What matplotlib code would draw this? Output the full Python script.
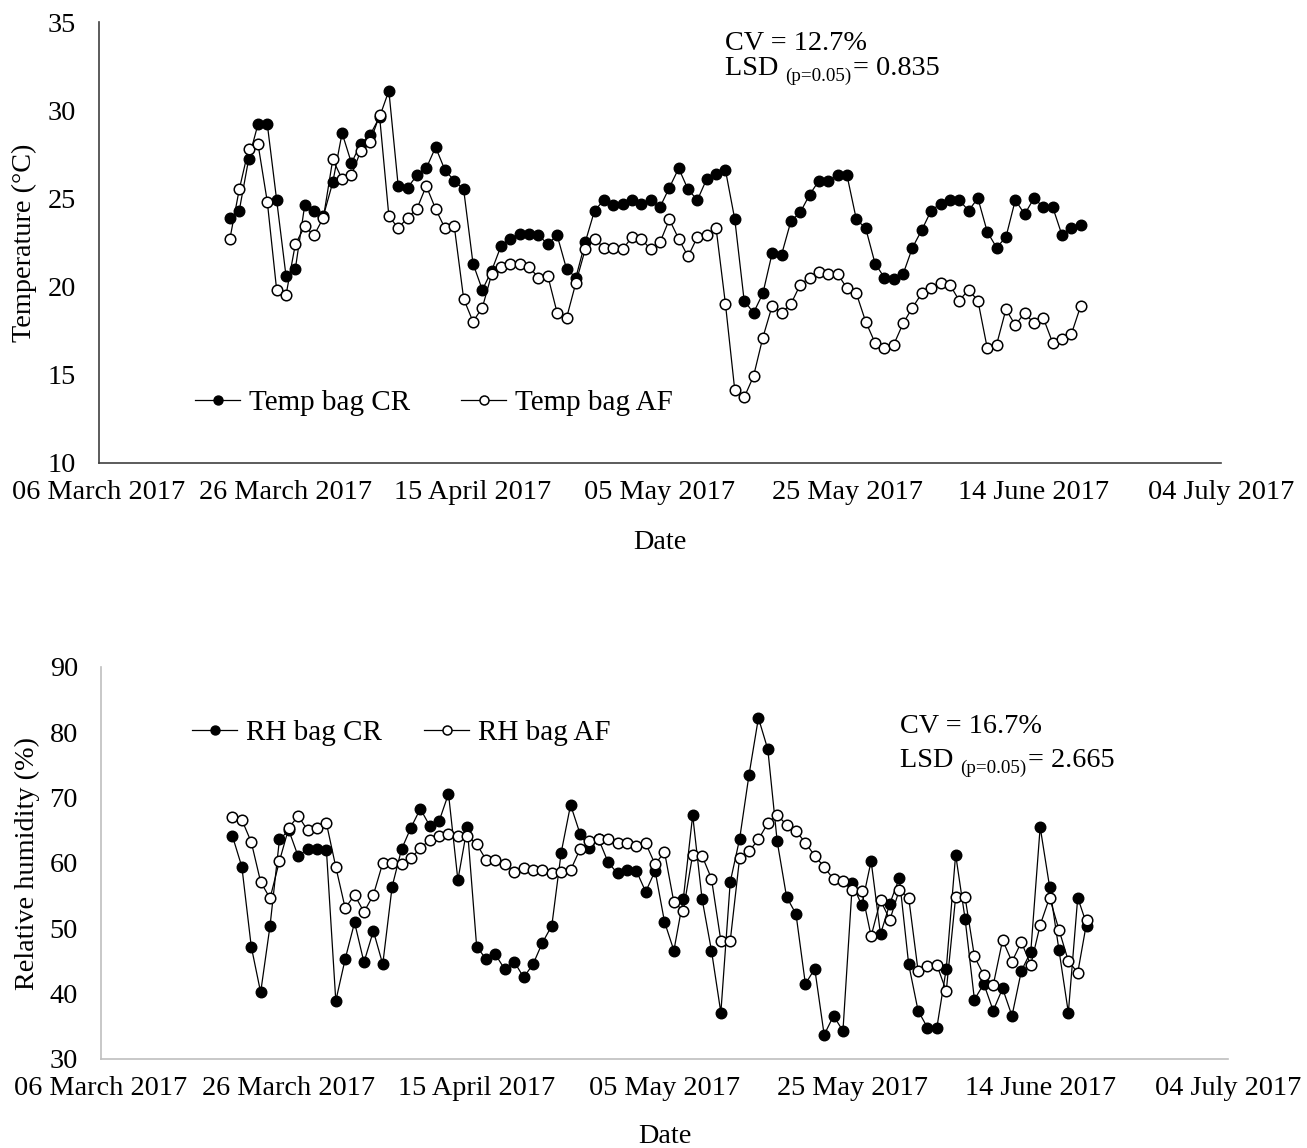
import matplotlib
matplotlib.use("Agg")
import matplotlib.pyplot as plt
import matplotlib.dates as mdates
import matplotlib.transforms as mtransforms
import pandas as pd

plt.rcParams['font.family'] = ['Liberation Serif', 'DejaVu Serif']

# ---------------- data ----------------
start_date = "2017-03-20"
end_date = "2017-06-19"
dates = pd.date_range(start_date, end_date, freq="D")

temp_cr = [23.9, 24.3, 27.2, 29.2, 29.2, 24.9, 20.6, 21.0, 24.6, 24.3,
           24.0, 25.9, 28.7, 27.0, 28.1, 28.6, 29.6, 31.1, 25.7, 25.6,
           26.3, 26.7, 27.9, 26.6, 26.0, 25.5, 21.3, 19.8, 20.9, 22.3,
           22.7, 23.0, 23.0, 22.9, 22.4, 22.9, 21.0, 20.5, 22.5, 24.3,
           24.9, 24.6, 24.7, 24.9, 24.7, 24.9, 24.5, 25.6, 26.7, 25.5,
           24.9, 26.1, 26.4, 26.6, 23.8, 19.2, 18.5, 19.6, 21.9, 21.8,
           23.7, 24.2, 25.2, 26.0, 26.0, 26.3, 26.3, 23.8, 23.3, 21.3,
           20.5, 20.4, 20.7, 22.2, 23.2, 24.3, 24.7, 24.9, 24.9, 24.3,
           25.0, 23.1, 22.2, 22.8, 24.9, 24.1, 25.0, 24.5, 24.5, 22.9,
           23.3, 23.5]

temp_af = [22.7, 25.5, 27.8, 28.1, 24.8, 19.8, 19.5, 22.4, 23.4, 22.9,
           23.9, 27.2, 26.1, 26.3, 27.7, 28.2, 29.7, 24.0, 23.3, 23.9,
           24.4, 25.7, 24.4, 23.3, 23.4, 19.3, 18.0, 18.8, 20.7, 21.1,
           21.3, 21.3, 21.1, 20.5, 20.6, 18.5, 18.2, 20.2, 22.1, 22.7,
           22.2, 22.2, 22.1, 22.8, 22.7, 22.1, 22.5, 23.8, 22.7, 21.7,
           22.8, 22.9, 23.3, 19.0, 14.1, 13.7, 14.9, 17.1, 18.9, 18.5,
           19.0, 20.1, 20.5, 20.8, 20.7, 20.7, 19.9, 19.6, 18.0, 16.8,
           16.5, 16.7, 17.9, 18.8, 19.6, 19.9, 20.2, 20.1, 19.2, 19.8,
           19.2, 16.5, 16.7, 18.7, 17.8, 18.5, 17.9, 18.2, 16.8, 17.0,
           17.3, 18.9]

rh_cr = [64.1, 59.4, 47.2, 40.2, 50.4, 63.6, 65.0, 61.0, 62.2, 62.2,
         62.0, 38.9, 45.3, 50.9, 44.8, 49.6, 44.5, 56.4, 62.1, 65.4,
         68.3, 65.7, 66.4, 70.6, 57.4, 65.5, 47.2, 45.3, 46.0, 43.7,
         44.9, 42.5, 44.5, 47.8, 50.4, 61.6, 68.9, 64.5, 62.3, 63.6,
         60.1, 58.4, 59.0, 58.8, 55.6, 58.8, 51.0, 46.6, 54.5, 67.3,
         54.5, 46.6, 37.1, 57.1, 63.7, 73.5, 82.2, 77.4, 63.3, 54.8,
         52.2, 41.5, 43.8, 33.7, 36.6, 34.3, 56.9, 53.5, 60.3, 49.1,
         53.8, 57.7, 44.5, 37.4, 34.8, 34.8, 43.8, 61.3, 51.5, 39.1,
         41.5, 37.4, 40.8, 36.6, 43.5, 46.4, 65.5, 56.4, 46.7, 37.1,
         54.7, 50.4]

rh_af = [67.0, 66.6, 63.2, 57.1, 54.6, 60.3, 65.4, 67.2, 65.0, 65.3,
         66.1, 59.4, 53.1, 55.1, 52.5, 55.1, 60.0, 60.0, 59.8, 60.7,
         62.3, 63.5, 64.2, 64.5, 64.2, 64.2, 62.9, 60.5, 60.5, 59.9,
         58.6, 59.3, 58.9, 58.9, 58.4, 58.6, 58.9, 62.1, 63.3, 63.6,
         63.6, 63.0, 63.0, 62.6, 63.0, 59.8, 61.7, 54.0, 52.7, 61.3,
         61.1, 57.6, 48.1, 48.1, 60.8, 61.8, 63.6, 66.1, 67.4, 65.8,
         64.9, 63.1, 61.1, 59.4, 57.5, 57.2, 55.9, 55.7, 48.8, 54.3,
         51.3, 55.9, 54.7, 43.5, 44.2, 44.4, 40.4, 54.8, 54.8, 45.7,
         42.8, 41.3, 48.2, 44.9, 47.9, 44.4, 50.5, 54.7, 49.8, 45.0,
         43.2, 51.3]

axis_start = "2017-03-06"
axis_end = "2017-07-04"
tick_dates = pd.date_range(axis_start, axis_end, freq="20D")

temp_ticks = [10, 15, 20, 25, 30, 35]
rh_ticks = [30, 40, 50, 60, 70, 80, 90]

# ---------------- figure ----------------
W, H = 1307, 1148
fig = plt.figure(figsize=(W / 100, H / 100), dpi=100)

def frac_box(left, top, right, bottom):
    return [left / W, 1 - bottom / H, (right - left) / W, (bottom - top) / H]

ax1 = fig.add_axes(frac_box(99, 22, 1221, 462.7))
ax2 = fig.add_axes(frac_box(101, 667, 1228, 1059))

FS = 20.3
LFS = 21
AFS = 20.3
line_kw = dict(color='black', lw=0.9)
ms = 7.6


def style_axis(ax, yticks, spine_color):
    ax.set_xlim(pd.Timestamp(axis_start), pd.Timestamp(axis_end))
    ax.set_xticks(tick_dates)
    ax.xaxis.set_major_formatter(mdates.DateFormatter('%d %B %Y'))
    ax.set_yticks(yticks)
    ax.set_ylim(yticks[0], yticks[-1])
    for s in ['top', 'right']:
        ax.spines[s].set_visible(False)
    for s in ['left', 'bottom']:
        ax.spines[s].set_color(spine_color)
        ax.spines[s].set_linewidth(1.2)
    ax.tick_params(axis='x', length=0, pad=12.5, labelsize=FS)
    ax.tick_params(axis='y', length=0, pad=16.5, labelsize=FS)


def lsd_text(ax, x, y, value):
    """Write 'LSD (p=0.05) = value' with a lowered, smaller middle part."""
    t1 = ax.text(x, y, 'LSD ', transform=ax.transAxes, fontsize=AFS,
                 va='baseline', ha='left')
    fig.canvas.draw()
    r = fig.canvas.get_renderer()
    w1 = t1.get_window_extent(r).width
    tr2 = mtransforms.offset_copy(ax.transAxes, fig=fig, x=w1 * 72 / fig.dpi,
                                  y=-4.5, units='points')
    t2 = ax.text(x, y, '(p=0.05)', transform=tr2, fontsize=AFS * 0.68,
                 va='baseline', ha='left')
    fig.canvas.draw()
    w2 = t2.get_window_extent(r).width
    tr3 = mtransforms.offset_copy(ax.transAxes, fig=fig,
                                  x=(w1 + w2 + 1) * 72 / fig.dpi, y=0,
                                  units='points')
    ax.text(x, y, '= ' + value, transform=tr3, fontsize=AFS,
            va='baseline', ha='left')


# Top panel
ax1.plot(dates, temp_cr, marker='o', ms=ms, mfc='black', mec='black',
         label='Temp bag CR', zorder=2, **line_kw)
ax1.plot(dates, temp_af, marker='o', ms=ms, mfc='white', mec='black', mew=1.1,
         label='Temp bag AF', zorder=3, **line_kw)
style_axis(ax1, temp_ticks, '#404040')
ax1.set_ylabel('Temperature (°C)', fontsize=FS)
ax1.yaxis.set_label_coords(-0.055, 0.5)
ax1.set_xlabel('Date', fontsize=FS, va='top')
ax1.xaxis.set_label_coords(0.5, -0.152)
ax1.legend(loc='center left', bbox_to_anchor=(0.0856, 0.1355), ncol=2,
           frameon=False, fontsize=LFS, borderpad=0, borderaxespad=0,
           handlelength=1.55, handletextpad=0.3, columnspacing=1.75,
           markerscale=0.85)
ax1.text(0.558, 0.9365, 'CV = 12.7%', transform=ax1.transAxes,
         fontsize=AFS, va='baseline', ha='left')
lsd_text(ax1, 0.558, 0.8795, '0.835')

# Bottom panel
ax2.plot(dates, rh_cr, marker='o', ms=ms, mfc='black', mec='black',
         label='RH bag CR', zorder=2, **line_kw)
ax2.plot(dates, rh_af, marker='o', ms=ms, mfc='white', mec='black', mew=1.1,
         label='RH bag AF', zorder=3, **line_kw)
style_axis(ax2, rh_ticks, '#bfbfbf')
ax2.set_ylabel('Relative humidity (%)', fontsize=FS)
ax2.yaxis.set_label_coords(-0.054, 0.5)
ax2.set_xlabel('Date', fontsize=FS, va='top')
ax2.xaxis.set_label_coords(0.5, -0.166)
ax2.legend(loc='center left', bbox_to_anchor=(0.0807, 0.832), ncol=2,
           frameon=False, fontsize=LFS, borderpad=0, borderaxespad=0,
           handlelength=1.55, handletextpad=0.3, columnspacing=1.45,
           markerscale=0.85)
ax2.text(0.709, 0.832, 'CV = 16.7%', transform=ax2.transAxes,
         fontsize=AFS, va='baseline', ha='left')
lsd_text(ax2, 0.709, 0.745, '2.665')

fig.savefig('out.png', dpi=100, facecolor='white')
